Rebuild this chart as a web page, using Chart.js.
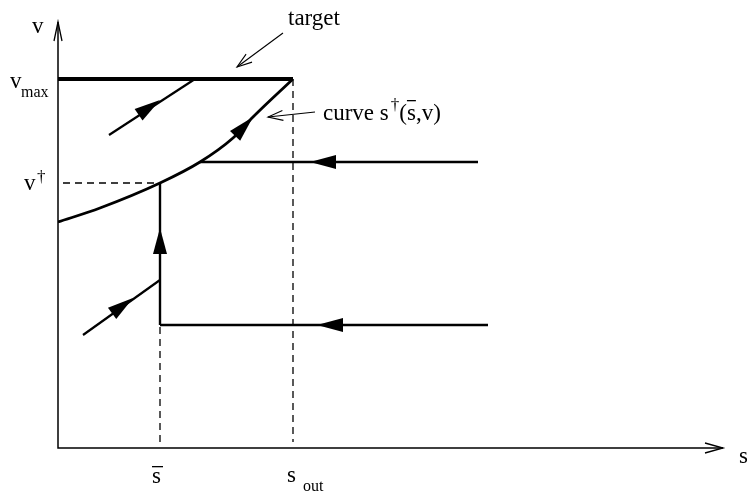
<!DOCTYPE html>
<html>
<head>
<meta charset="utf-8">
<script src="https://cdn.jsdelivr.net/npm/chart.js@4"></script>
<style>
  html, body { margin: 0; padding: 0; background: #fff; }
  #wrap { width: 747px; height: 493px; }
</style>
</head>
<body>
<div id="wrap"><canvas id="phase" width="747" height="493"></canvas></div>
<script>
// axis ranges (s horizontal, v vertical)
var sMax = 6.65, vMaxAxis = 4.26;

// key levels
var sBar = 1.02, sOut = 2.35;
var vMax = 3.69, vDagger = 2.65;

// the curve s+(sbar, v)
var curveS = [0, 0.42, 1.02, 1.42, 1.75, 1.95, 2.35];
var curveV = [2.26, 2.40, 2.65, 2.86, 3.10, 3.31, 3.69];

// trajectories
var upperFlowS = [1.42, 4.20], upperFlowV = [2.86, 2.86];
var lowerFlowS = [1.02, 4.30], lowerFlowV = [1.23, 1.23];
var climbS = [1.02, 1.02], climbV = [1.23, 2.65];
var lowDiagS = [0.25, 1.02], lowDiagV = [1.13, 1.68];
var upDiagS = [0.51, 1.37], upDiagV = [3.13, 3.69];
var targetS = [0, sOut], targetV = [vMax, vMax];

// filled arrowheads: tip and a point behind it on the same line
var arrowTips = [[1.02, 3.48], [1.95, 3.31], [2.52, 2.86], [1.02, 2.20], [0.75, 1.50], [2.59, 1.23]];
var arrowFrom = [[0.51, 3.13], [1.75, 3.10], [4.20, 2.86], [1.02, 1.23], [0.25, 1.13], [4.30, 1.23]];

// label pointers (from -> to)
var pointerFrom = [[2.25, 4.15], [2.57, 3.36]];
var pointerTo = [[1.79, 3.81], [2.10, 3.31]];

function pts(xs, ys) {
  return xs.map(function (x, i) { return { x: x, y: ys[i] }; });
}

function lineSet(data, width, dash) {
  return {
    data: data,
    showLine: true,
    borderColor: '#000',
    borderWidth: width,
    borderDash: dash || [],
    pointRadius: 0,
    fill: false
  };
}

var ink = '#000';
var serif = '"Liberation Serif", "DejaVu Serif", serif';

var curveSet = lineSet(pts(curveS, curveV), 2.8);
curveSet.cubicInterpolationMode = 'monotone';

var datasets = [
  lineSet([{ x: sBar, y: vDagger }, { x: sBar, y: 0.06 }], 1.3, [7, 5]),
  lineSet([{ x: sOut, y: vMax }, { x: sOut, y: 0.06 }], 1.3, [7, 5]),
  lineSet([{ x: 0.05, y: vDagger }, { x: sBar, y: vDagger }], 1.3, [7, 5]),
  lineSet(pts(targetS, targetV), 4),
  curveSet,
  lineSet(pts(upperFlowS, upperFlowV), 2.4),
  lineSet(pts(lowerFlowS, lowerFlowV), 2.4),
  lineSet(pts(climbS, climbV), 2.4),
  lineSet(pts(lowDiagS, lowDiagV), 2.2),
  lineSet(pts(upDiagS, upDiagV), 2.2)
];
pointerFrom.forEach(function (p, i) {
  datasets.push(lineSet([{ x: p[0], y: p[1] }, { x: pointerTo[i][0], y: pointerTo[i][1] }], 1.1));
});

function px(chart, p) {
  return [chart.scales.x.getPixelForValue(p[0]), chart.scales.y.getPixelForValue(p[1])];
}

var decor = {
  id: 'decor',
  beforeDatasetsDraw: function (chart) {
    var ctx = chart.ctx, a = chart.chartArea;
    ctx.save();
    ctx.strokeStyle = ink;
    ctx.lineWidth = 1.5;
    ctx.beginPath();
    ctx.moveTo(a.left, a.top);
    ctx.lineTo(a.left, a.bottom);
    ctx.lineTo(a.right, a.bottom);
    ctx.stroke();
    // open heads on the axes
    ctx.lineWidth = 1.3;
    ctx.beginPath();
    ctx.moveTo(a.left - 4, a.top + 19);
    ctx.lineTo(a.left, a.top);
    ctx.lineTo(a.left + 4, a.top + 19);
    ctx.moveTo(a.right - 18, a.bottom - 5);
    ctx.lineTo(a.right, a.bottom);
    ctx.lineTo(a.right - 18, a.bottom + 5);
    ctx.stroke();
    ctx.restore();
  },
  afterDatasetsDraw: function (chart) {
    var ctx = chart.ctx;
    ctx.save();
    ctx.fillStyle = ink;
    ctx.strokeStyle = ink;

    arrowTips.forEach(function (tip, i) {
      var t = px(chart, tip), f = px(chart, arrowFrom[i]);
      var ang = Math.atan2(t[1] - f[1], t[0] - f[0]);
      var len = 26, half = 7;
      var bx = t[0] - len * Math.cos(ang), by = t[1] - len * Math.sin(ang);
      ctx.beginPath();
      ctx.moveTo(t[0], t[1]);
      ctx.lineTo(bx + half * Math.sin(ang), by - half * Math.cos(ang));
      ctx.lineTo(bx - half * Math.sin(ang), by + half * Math.cos(ang));
      ctx.closePath();
      ctx.fill();
    });

    ctx.lineWidth = 1.1;
    pointerTo.forEach(function (tip, i) {
      var t = px(chart, tip), f = px(chart, pointerFrom[i]);
      var ang = Math.atan2(t[1] - f[1], t[0] - f[0]);
      var len = 15, half = 5;
      var bx = t[0] - len * Math.cos(ang), by = t[1] - len * Math.sin(ang);
      ctx.beginPath();
      ctx.moveTo(bx + half * Math.sin(ang), by - half * Math.cos(ang));
      ctx.lineTo(t[0], t[1]);
      ctx.lineTo(bx - half * Math.sin(ang), by + half * Math.cos(ang));
      ctx.stroke();
    });

    // labels
    var x0 = chart.scales.x.getPixelForValue(0);
    var y0 = chart.scales.y.getPixelForValue(0);
    var yMax = chart.scales.y.getPixelForValue(vMax);
    var yDag = chart.scales.y.getPixelForValue(vDagger);
    var xBar = chart.scales.x.getPixelForValue(sBar);
    var xOut = chart.scales.x.getPixelForValue(sOut);
    var big = '23px ' + serif, small = '16px ' + serif;
    ctx.textBaseline = 'alphabetic';
    ctx.textAlign = 'left';

    ctx.font = big;
    ctx.fillText('v', x0 - 26, 33);
    ctx.fillText('v', x0 - 48, yMax + 9);
    ctx.font = small;
    ctx.fillText('max', x0 - 37, yMax + 18);

    ctx.font = big;
    ctx.fillText('v', x0 - 34, yDag + 7);
    ctx.font = '17px ' + serif;
    ctx.fillText('\u2020', x0 - 21, yDag - 1);

    ctx.font = big;
    ctx.fillText('s', xBar - 8, y0 + 35);
    ctx.fillRect(xBar - 8, y0 + 18, 11, 1.3);
    ctx.fillText('s', xOut - 6, y0 + 34);
    ctx.font = small;
    ctx.fillText('out', xOut + 10, y0 + 43);

    ctx.font = big;
    ctx.fillText('s', chart.chartArea.right + 16, y0 + 15);
    ctx.fillText('target', 288, 25);

    var cx = 323, cy = 120;
    ctx.fillText('curve s', cx, cy);
    var w = ctx.measureText('curve s').width;
    ctx.font = '17px ' + serif;
    ctx.fillText('\u2020', cx + w + 2, cy - 10);
    var w2 = w + 2 + ctx.measureText('\u2020').width;
    ctx.font = big;
    ctx.fillText('(', cx + w2, cy);
    var wp = ctx.measureText('(').width;
    var ws = ctx.measureText('s').width;
    ctx.fillRect(cx + w2 + wp, cy - 20, ws, 1.3);
    ctx.fillText('s,v)', cx + w2 + wp, cy);
    ctx.restore();
  }
};

new Chart(document.getElementById('phase').getContext('2d'), {
  type: 'scatter',
  data: { datasets: datasets },
  options: {
    responsive: false,
    animation: false,
    events: [],
    layout: { padding: { left: 58, top: 22, right: 24, bottom: 45 } },
    plugins: { legend: { display: false }, tooltip: { enabled: false } },
    scales: {
      x: { type: 'linear', min: 0, max: sMax, display: false },
      y: { type: 'linear', min: 0, max: vMaxAxis, display: false }
    }
  },
  plugins: [decor]
});
</script>
</body>
</html>
